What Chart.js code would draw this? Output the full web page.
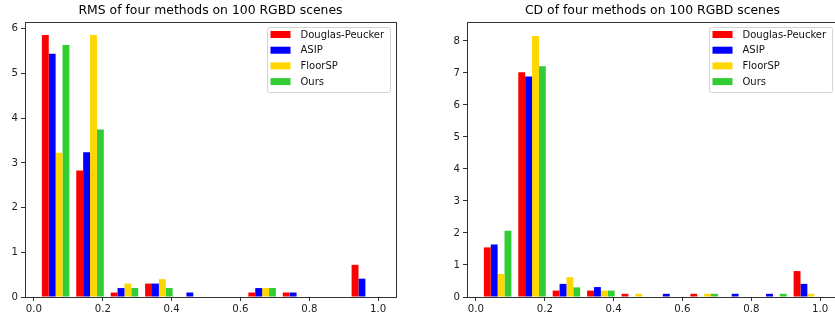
<!DOCTYPE html>
<html lang="en">
  <head>
    <meta charset="UTF-8">
    <title>RMS and CD histograms</title>
    <style>
      html, body { margin: 0; padding: 0; background: #fff; }
      body { width: 835px; height: 315px; overflow: hidden; position: relative; }
      .box { position: absolute; top: 0; height: 315px; }
      #left { left: 0; width: 417px; }
      #right { left: 417px; width: 430px; }
    </style>
  </head>
  <body>
    <div class="box" id="left"><canvas id="rmsChart"></canvas></div>
    <div class="box" id="right"><canvas id="cdChart"></canvas></div>

    <script src="https://cdn.jsdelivr.net/npm/chart.js"></script>
    <script>
      // histogram bins (centres, width 0.1) and the legend names
      const binCenters = [0.063, 0.163, 0.263, 0.363, 0.463, 0.563, 0.663, 0.763, 0.863, 0.963];
      const methods = ['Douglas-Peucker', 'ASIP', 'FloorSP', 'Ours'];
      const colors = ['#ff0000', '#0000ff', '#ffd700', '#32cd32'];

      // density values
      const rmsDP      = [5.86, 2.83, 0.10, 0.30, 0, 0, 0.10, 0.10, 0, 0.72];
      const rmsASIP    = [5.44, 3.24, 0.20, 0.30, 0.10, 0, 0.20, 0.10, 0, 0.41];
      const rmsFloorSP = [3.23, 5.86, 0.30, 0.40, 0, 0, 0.20, 0, 0, 0];
      const rmsOurs    = [5.64, 3.75, 0.20, 0.20, 0, 0, 0.20, 0, 0, 0];

      const cdDP      = [1.55, 7.02, 0.20, 0.20, 0.10, 0, 0.10, 0, 0, 0.81];
      const cdASIP    = [1.64, 6.89, 0.41, 0.31, 0, 0.10, 0, 0.10, 0.10, 0.41];
      const cdFloorSP = [0.72, 8.15, 0.62, 0.20, 0.10, 0, 0.10, 0, 0, 0.10];
      const cdOurs    = [2.07, 7.21, 0.30, 0.20, 0, 0, 0.10, 0, 0.10, 0];

      const xTicks = [0.0, 0.2, 0.4, 0.6, 0.8, 1.0];
      const rmsYTicks = [0, 1, 2, 3, 4, 5, 6];
      const cdYTicks = [0, 1, 2, 3, 4, 5, 6, 7, 8];

      const FONT = '"DejaVu Sans", sans-serif';

      // axes frame (all four spines)
      const framePlugin = {
        id: 'frame',
        afterDatasetsDraw(chart) {
          const { ctx, chartArea: a } = chart;
          ctx.save();
          ctx.strokeStyle = '#333';
          ctx.lineWidth = 1;
          ctx.strokeRect(Math.round(a.left) + 0.5, Math.round(a.top) + 0.5,
                         Math.round(a.right - a.left), Math.round(a.bottom - a.top));
          ctx.restore();
        }
      };

      // matplotlib style legend box in the upper right corner
      const boxLegend = {
        id: 'boxLegend',
        afterDraw(chart) {
          const { ctx, chartArea: a } = chart;
          const sets = chart.data.datasets;
          ctx.save();
          ctx.font = '10px ' + FONT;
          const textW = Math.max(...sets.map(d => ctx.measureText(d.label).width));
          const w = Math.round(33 + textW + 6), h = 65;
          const x = Math.round(a.right - 6 - w) + 0.5, y = Math.round(a.top + 5) + 0.5;

          ctx.beginPath();
          ctx.roundRect(x, y, w, h, 2);
          ctx.fillStyle = 'rgba(255,255,255,0.85)';
          ctx.fill();
          ctx.strokeStyle = '#d4d4d4';
          ctx.lineWidth = 1;
          ctx.stroke();

          ctx.textBaseline = 'middle';
          ctx.textAlign = 'left';
          sets.forEach((d, i) => {
            const cy = y + 7 + i * 15.7;
            ctx.fillStyle = d.backgroundColor;
            ctx.fillRect(x + 3, cy - 3.5, 20, 7);
            ctx.fillStyle = '#111';
            ctx.fillText(d.label, x + 33, cy + 0.5);
          });
          ctx.restore();
        }
      };

      function makeChart(id, title, series, yMax, yTicks, padLeft, padRight) {
        return new Chart(document.getElementById(id), {
          type: 'bar',
          data: {
            datasets: series.map((vals, i) => ({
              label: methods[i],
              data: binCenters.map((c, j) => ({ x: c, y: vals[j] })),
              backgroundColor: colors[i],
              borderWidth: 0,
              categoryPercentage: 0.8,
              barPercentage: 1.0
            }))
          },
          options: {
            responsive: true,
            maintainAspectRatio: false,
            animation: false,
            layout: { padding: { left: padLeft, right: padRight, top: 0, bottom: 0 } },
            plugins: {
              legend: { display: false },
              tooltip: { enabled: false },
              title: {
                display: true,
                text: title,
                fullSize: false,
                color: '#000',
                font: { family: FONT, size: 12.4, weight: 'normal', lineHeight: 1.2 },
                padding: { top: 3.5, bottom: 3.6 }
              }
            },
            scales: {
              x: {
                type: 'linear',
                min: -0.026,
                max: 1.052,
                offset: false,
                grid: { display: true, offset: false, drawOnChartArea: false, drawTicks: true, tickLength: 4, color: '#333' },
                border: { display: false },
                afterBuildTicks: s => { s.ticks = xTicks.map(v => ({ value: v })); },
                afterFit: s => { s.height = 18; },
                ticks: {
                  color: '#222',
                  padding: 2,
                  maxRotation: 0,
                  font: { family: FONT, size: 10.2 },
                  callback: v => Number(v).toFixed(1)
                }
              },
              y: {
                type: 'linear',
                min: 0,
                max: yMax,
                grid: { display: true, drawOnChartArea: false, drawTicks: true, tickLength: 4, color: '#333' },
                border: { display: false },
                afterBuildTicks: s => { s.ticks = yTicks.map(v => ({ value: v })); },
                afterFit: s => { s.width = 25; },
                ticks: {
                  color: '#222',
                  padding: 3,
                  font: { family: FONT, size: 10.2 },
                  callback: v => String(v)
                }
              }
            }
          },
          plugins: [framePlugin, boxLegend]
        });
      }

      makeChart('rmsChart', 'RMS of four methods on 100 RGBD scenes',
                [rmsDP, rmsASIP, rmsFloorSP, rmsOurs], 6.153, rmsYTicks, 0, 21);
      makeChart('cdChart', 'CD of four methods on 100 RGBD scenes',
                [cdDP, cdASIP, cdFloorSP, cdOurs], 8.59, cdYTicks, 25, 9);
    </script>
  </body>
</html>
